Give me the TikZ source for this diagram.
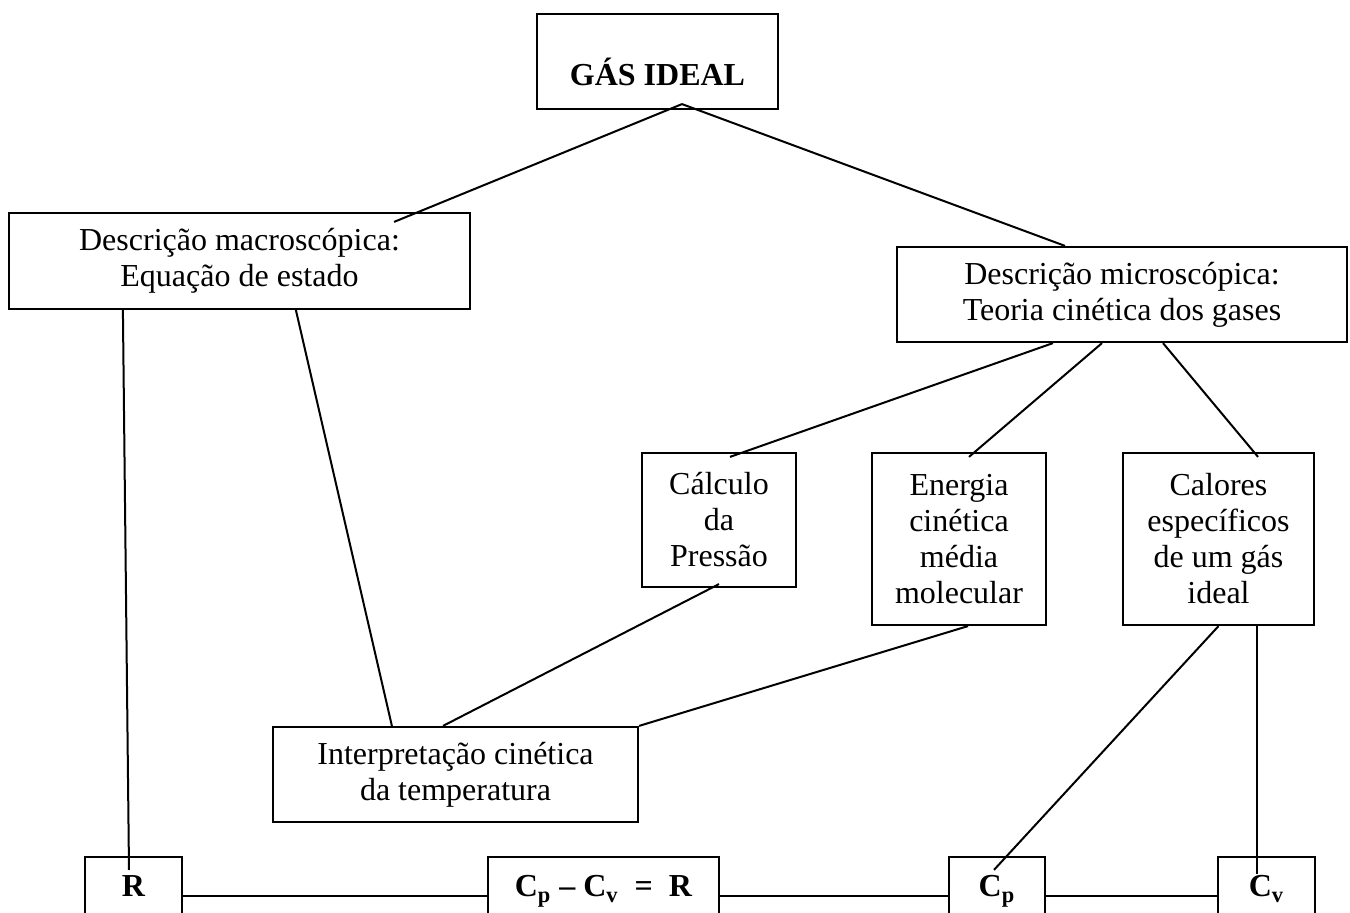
\documentclass[tikz,border=0pt]{standalone}
\usepackage{fontspec}
\setmainfont{Liberation Serif}
\usepackage{tikz}
\usetikzlibrary{calc}

\begin{document}
\begin{tikzpicture}[x=0.5pt,y=-0.5pt,line width=1pt,
                    box/.style={draw,line width=1.1pt,align=center,inner sep=0pt,
                                font=\fontsize{16}{18}\selectfont},
                    base/.style={box,minimum height=39pt,text height=8pt,text depth=7pt}]

  \useasboundingbox (0,0) rectangle (1350,913);
  \clip (0,0) rectangle (1350,913);

  \node[box,minimum width=120.5pt,minimum height=47.5pt,text height=24.5pt,text depth=0pt]
        (gas) at (657.5,61.5) {\textbf{GÁS IDEAL}};
  \node[box,minimum width=230.5pt,minimum height=48pt] (macro) at (239.5,261)
        {Descrição macroscópica:\\Equação de estado};
  \node[box,minimum width=225pt,minimum height=47.5pt] (micro) at (1122,294.5)
        {Descrição microscópica:\\Teoria cinética dos gases};

  \node[box,minimum width=77pt,minimum height=67pt] (calc) at (719,520)
        {Cálculo\\da\\Pressão};
  \node[box,minimum width=87pt,minimum height=86pt] (ener) at (959,539)
        {Energia\\cinética\\média\\molecular};
  \node[box,minimum width=95.5pt,minimum height=86pt] (calor) at (1218.5,539)
        {Calores\\específicos\\de um gás\\ideal};

  \node[box,minimum width=182.5pt,minimum height=47.5pt] (interp) at (455.5,774.5)
        {Interpretação cinética\\da temperatura};

  \node[base,minimum width=48.5pt] (r)    at (133.5,896) {\textbf{R}};
  \node[base,minimum width=115.5pt] (cpcv) at (603.5,896)
        {\textbf{C\textsubscript{p} – C\textsubscript{v}\ \ =\ \ R}};
  \node[base,minimum width=48pt]   (cp)   at (997,896)   {\textbf{C\textsubscript{p}}};
  \node[base,minimum width=48.5pt] (cv)   at (1266.5,896) {\textbf{C\textsubscript{v}}};

  % top part
  \draw ($(gas.south)+(24.5,-6)$) -- ($(macro.north east)+(-77,10)$);
  \draw ($(gas.south)+(24.5,-6)$) -- ($(micro.north)+(-57,0)$);

  \draw ($(macro.south west)+(115,0)$) -- ($(r.north)+(-4.5,14)$);
  \draw ($(macro.south west)+(288,0)$) -- ($(interp.north west)+(120,0)$);

  \draw ($(micro.south)+(-69,0)$) -- ($(calc.north)+(11,5)$);
  \draw ($(micro.south)+(-20,0)$) -- ($(ener.north)+(10,5)$);
  \draw ($(micro.south)+(41,0)$)  -- ($(calor.north)+(39.5,5)$);

  % towards the temperature
  \draw ($(calc.south)+(0,-4)$) -- ($(interp.north)+(-12.5,0)$);
  \draw ($(ener.south)+(9,0)$)  -- (interp.north east);

  % heat capacities
  \draw (calor.south) -- ($(cp.north)+(-3,14)$);
  \draw ($(calor.south)+(38.5,0)$) -- ($(cv.north)+(-9.5,18)$);

  \draw (r.east) -- (cpcv.west);
  \draw (cpcv.east) -- (cp.west);
  \draw (cp.east) -- (cv.west);

\end{tikzpicture}
\end{document}
